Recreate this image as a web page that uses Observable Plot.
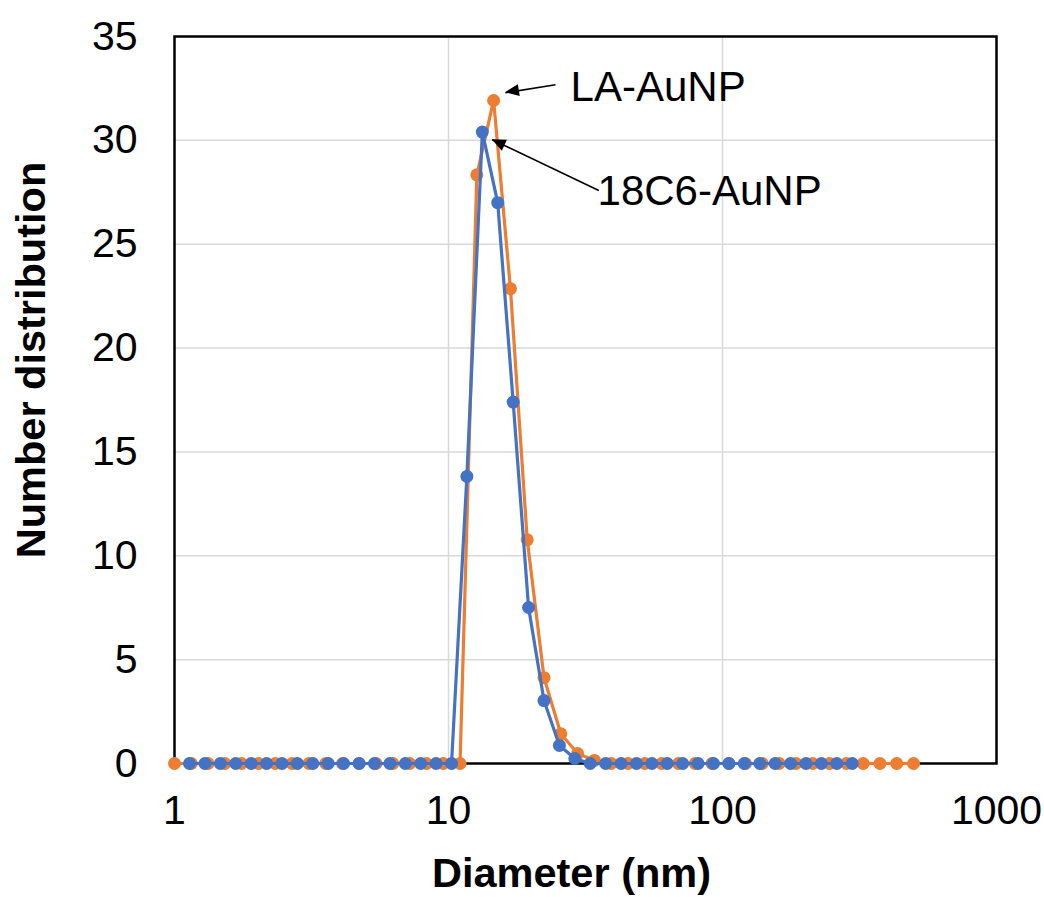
<!DOCTYPE html>
<html><head><meta charset="utf-8">
<script src="https://cdn.jsdelivr.net/npm/d3@7"></script>
<script src="https://cdn.jsdelivr.net/npm/@observablehq/plot@0.6"></script>
<style>body{margin:0;background:#fff} svg{display:block}</style>
</head><body><div id="chart"></div>
<script>
// LA-AuNP (orange)
const laDiameter = [1.000,1.152,1.326,1.527,1.759,2.025,2.332,2.686,3.093,3.562,4.102,4.724,5.441,6.266,7.216,8.310,9.568,11.02,12.69,14.61,16.83,19.38,22.32,25.70,29.60,34.08,39.25,45.20,52.06,59.95,69.02,79.48,91.54,105.4,121.4,139.8,161.0,185.4,213.5,245.9,283.1,326.1,375.5,432.4,498.0];
const laNumber   = [0,0,0,0,0,0,0,0,0,0,0,0,0,0,0,0,0,0,28.34,31.92,22.86,10.77,4.13,1.43,0.48,0.15,0,0,0,0,0,0,0,0,0,0,0,0,0,0,0,0,0,0,0];
// 18C6-AuNP (blue)
const c18Diameter = [1.134,1.291,1.470,1.673,1.905,2.168,2.468,2.809,3.197,3.639,4.142,4.715,5.367,6.109,6.954,7.915,9.010,10.26,11.67,13.29,15.12,17.22,19.60,22.31,25.40,28.91,32.90,37.46,42.64,48.53,55.24,62.88,71.57,81.47,92.73,105.6,120.1,136.8,155.7,177.2,201.7,229.6,261.3,297.5];
const c18Number   = [0,0,0,0,0,0,0,0,0,0,0,0,0,0,0,0,0,0,13.82,30.40,27.00,17.40,7.51,3.03,0.87,0.24,0,0,0,0,0,0,0,0,0,0,0,0,0,0,0,0,0,0,0];

const xTicks = [1, 10, 100, 1000];
const yTicks = [0, 5, 10, 15, 20, 25, 30, 35];
const xGrid = [10, 100];
const yGrid = [5, 10, 15, 20, 25, 30];

// annotations (data coordinates)
const labelText = ["LA-AuNP", "18C6-AuNP"];
const labelX = [27.9, 35.0];
const labelY = [32.56, 27.52];
const arrowFromX = [24.58, 35.37];
const arrowFromY = [32.68, 27.59];
const arrowTipX = [16.14, 14.44];
const arrowTipY = [32.29, 30.03];

const orange = "#ED7D31";
const blue = "#4472C4";

const la = laDiameter.map((d, i) => ({d, n: laNumber[i]}));
const c18 = c18Diameter.map((d, i) => ({d, n: c18Number[i]}));
const labels = labelText.map((t, i) => ({t, x: labelX[i], y: labelY[i]}));
const arrows = arrowTipX.map((tx, i) => ({x1: arrowFromX[i], y1: arrowFromY[i], x2: tx, y2: arrowTipY[i]}));

function arrowHeads(index, scales) {
  const sx = scales.x || (scales.scales && scales.scales.x);
  const sy = scales.y || (scales.scales && scales.scales.y);
  const g = d3.create("svg:g");
  arrows.forEach(a => {
    const X1 = sx(a.x1), Y1 = sy(a.y1), X2 = sx(a.x2), Y2 = sy(a.y2);
    const L = Math.hypot(X2 - X1, Y2 - Y1);
    const ux = (X2 - X1) / L, uy = (Y2 - Y1) / L;
    const len = 14, hw = 6;
    const bx = X2 - ux * len, by = Y2 - uy * len;
    g.append("path")
      .attr("d", `M${X2},${Y2}L${bx - uy * hw},${by + ux * hw}L${bx + uy * hw},${by - ux * hw}Z`)
      .attr("fill", "black");
  });
  return g.node();
}

const chart = Plot.plot({
  width: 1044,
  height: 897,
  marginLeft: 174,
  marginRight: 48,
  marginTop: 36,
  marginBottom: 134,
  style: {fontFamily: "'Liberation Sans', Arial, sans-serif", color: "black", background: "white"},
  x: {type: "log", domain: [1, 1000]},
  y: {domain: [0, 35]},
  marks: [
    Plot.ruleY(yGrid, {stroke: "#d9d9d9", strokeWidth: 1.5}),
    Plot.ruleX(xGrid, {stroke: "#d9d9d9", strokeWidth: 1.5}),
    Plot.frame({stroke: "black", strokeWidth: 2.5}),
    Plot.line(la, {x: "d", y: "n", stroke: orange, strokeWidth: 3.2, strokeLinejoin: "round"}),
    Plot.dot(la, {x: "d", y: "n", fill: orange, r: 6.5}),
    Plot.line(c18, {x: "d", y: "n", stroke: blue, strokeWidth: 3.2, strokeLinejoin: "round"}),
    Plot.dot(c18, {x: "d", y: "n", fill: blue, r: 6.5}),
    Plot.link(arrows, {x1: "x1", y1: "y1", x2: "x2", y2: "y2", stroke: "black", strokeWidth: 1.6}),
    arrowHeads,
    Plot.text(labels, {x: "x", y: "y", text: "t", fontSize: 42, textAnchor: "start", lineAnchor: "middle", fill: "black"}),
    Plot.axisX(xTicks, {tickSize: 0, tickPadding: 31, tickFormat: d => String(d), fontSize: 41, label: null}),
    Plot.axisY(yTicks, {tickSize: 0, tickPadding: 37, fontSize: 41, label: null}),
    Plot.text(["Diameter (nm)"], {frameAnchor: "bottom", textAnchor: "middle", lineAnchor: "middle", dx: -14, dy: 110, fontSize: 41.5, fontWeight: "bold", fill: "black"}),
    Plot.text(["Number distribution"], {frameAnchor: "left", textAnchor: "middle", lineAnchor: "middle", rotate: -90, dx: -143, dy: -40, fontSize: 41.5, fontWeight: "bold", fill: "black"})
  ]
});
document.getElementById("chart").appendChild(chart);
</script>
</body></html>
